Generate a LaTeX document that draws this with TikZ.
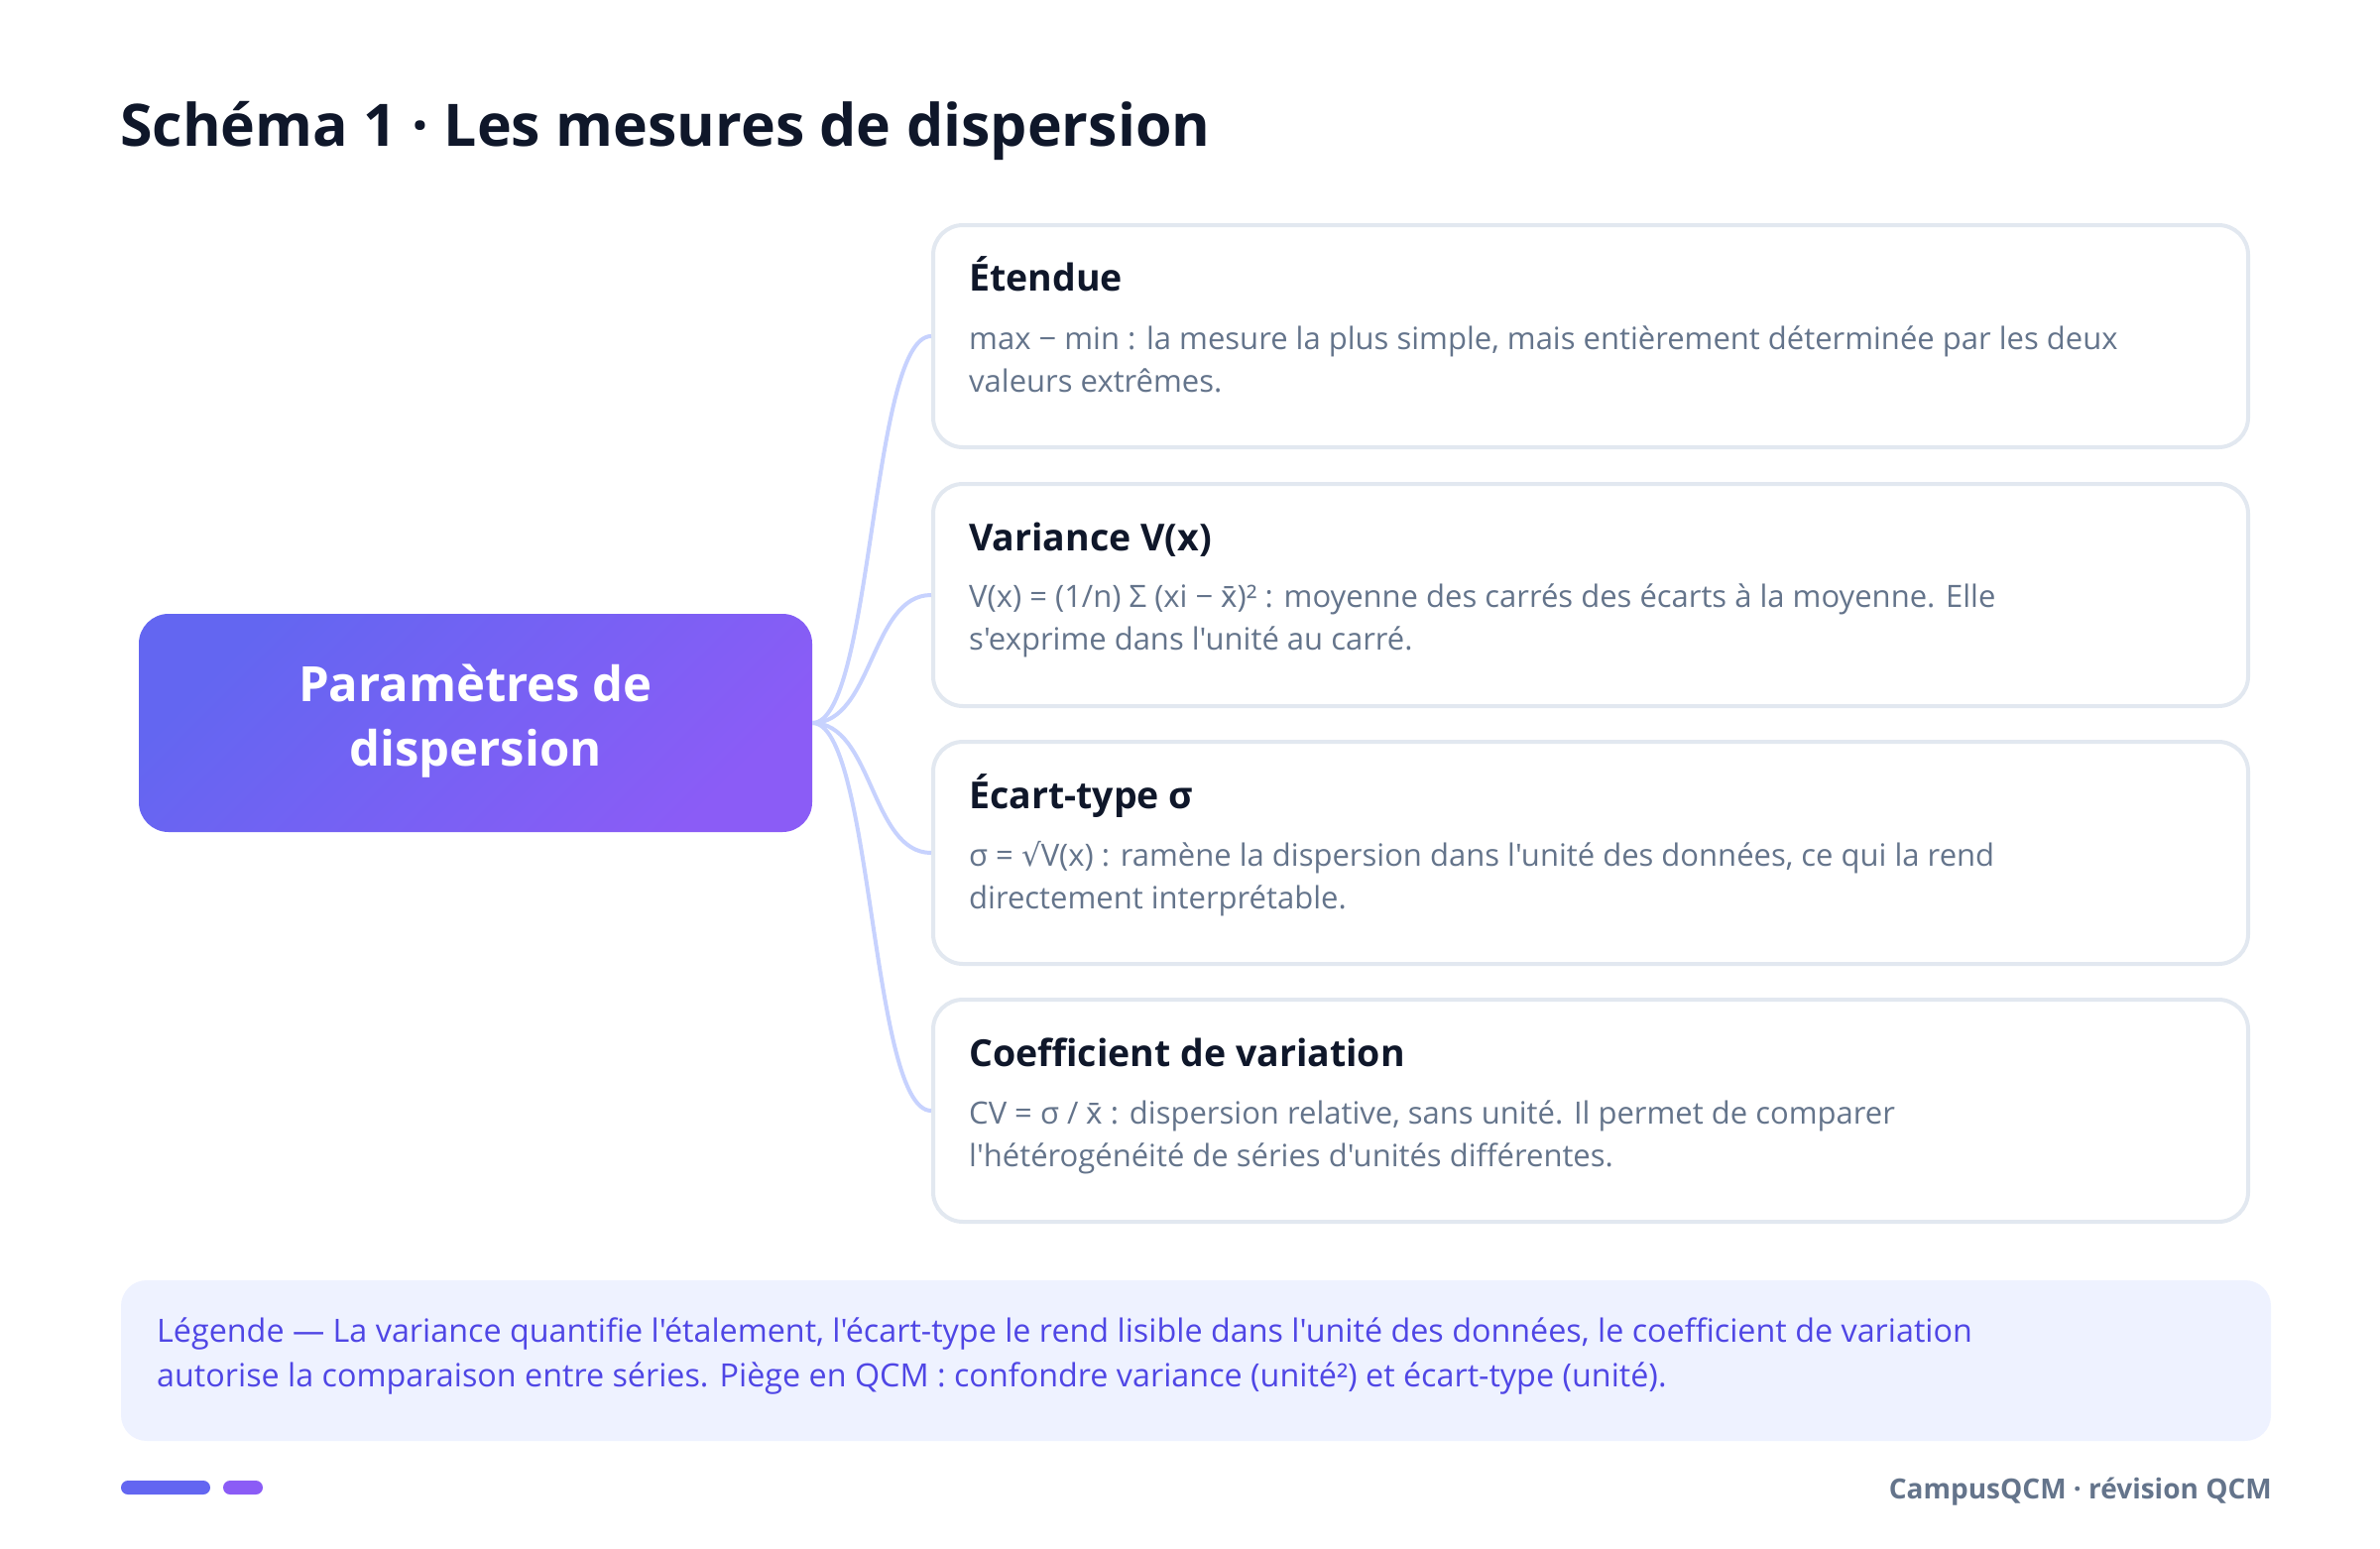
\documentclass[tikz,border=0pt]{standalone}
\usepackage{fontspec}
\setmainfont{Open Sans}[Ligatures=TeXOff]
\newfontfamily\djv{DejaVu Sans}
\newfontfamily\noto{Noto Sans}
\definecolor{ink}{HTML}{0F172A}
\definecolor{muted}{HTML}{64748B}
\definecolor{cardline}{HTML}{E2E8F0}
\definecolor{conncol}{HTML}{C7D2FE}
\definecolor{legbg}{HTML}{EEF2FF}
\definecolor{legtext}{HTML}{4F46E5}
\definecolor{indigoA}{HTML}{6366F1}
\definecolor{violetA}{HTML}{8B5CF6}
\tikzset{
  card/.style={draw=cardline, line width=4pt, fill=white, rounded corners=30pt,
    minimum width=1326pt, minimum height=224pt, inner sep=0pt},
  ctitle/.style={anchor=base west, inner sep=0pt, text=ink,
    font=\fontsize{37.5}{44}\selectfont\bfseries},
  cdesc/.style={anchor=base west, inner sep=0pt, text=muted,
    font=\fontsize{31}{36}\selectfont},
  conn/.style={draw=conncol, line width=4pt},
  legtxt/.style={anchor=base west, inner sep=0pt, text=legtext,
    font=\fontsize{32.3}{38}\selectfont},
}
\begin{document}
\begin{tikzpicture}[x=1pt,y=-1pt]
\useasboundingbox[fill=white] (0,0) rectangle (2400,1561);

% title
\node[anchor=base west, inner sep=0pt, text=ink, font=\fontsize{59}{66}\selectfont\bfseries]
  (title) at (121,147) {Schéma 1 · Les mesures de dispersion};

% root
\node[rounded corners=30pt, minimum width=679pt, minimum height=220pt, inner sep=0pt,
  left color=indigoA, right color=violetA, shading angle=45]
  (root) at (479.5,729) {};
\node[anchor=base, inner sep=0pt, text=white, font=\fontsize{49}{56}\selectfont\bfseries]
  (rootA) at (479.5,707) {Paramètres de};
\node[anchor=base, inner sep=0pt, text=white, font=\fontsize{49}{56}\selectfont\bfseries]
  (rootB) at (479.5,772) {dispersion};

% cards
\node[card] (c1) at (1604,339) {};
\node[card] (c2) at (1604,600) {};
\node[card] (c3) at (1604,860) {};
\node[card] (c4) at (1604,1120) {};

% connectors
\foreach \c in {c1,c2,c3,c4}{
  \draw[conn] (root.east) .. controls ([xshift=61pt]root.east) and ([xshift=-61pt]\c.west) .. (\c.west);
}

% card texts
\node[ctitle] (t1) at (977,293) {Étendue};
\node[cdesc] (d1a) at (977,352) {max − min : la mesure la plus simple, mais entièrement déterminée par les deux};
\node[cdesc] (d1b) at (977,395) {valeurs extrêmes.};

\node[ctitle] (t2) at (977,555) {Variance V(x)};
\node[cdesc] (d2a) at (977,612) {V(x) = (1/n) Σ (xi − {\noto x̄})² : moyenne des carrés des écarts à la moyenne. Elle};
\node[cdesc] (d2b) at (977,655) {s'exprime dans l'unité au carré.};

\node[ctitle] (t3) at (977,815) {Écart-type σ};
\node[cdesc] (d3a) at (977,873) {σ = {\djv √}V(x) : ramène la dispersion dans l'unité des données, ce qui la rend};
\node[cdesc] (d3b) at (977,916) {directement interprétable.};

\node[ctitle] (t4) at (977,1075) {Coefficient de variation};
\node[cdesc] (d4a) at (977,1133) {CV = σ / {\noto x̄} : dispersion relative, sans unité. Il permet de comparer};
\node[cdesc] (d4b) at (977,1176) {l'hétérogénéité de séries d'unités différentes.};

% legend
\node[fill=legbg, rounded corners=26pt, minimum width=2168pt, minimum height=162pt, inner sep=0pt]
  (leg) at (1206,1372) {};
\node[legtxt] (l1) at (158,1353) {Légende — La variance quantifie l'étalement, l'écart-type le rend lisible dans l'unité des données, le coefficient de variation};
\node[legtxt] (l2) at (158,1398) {autorise la comparaison entre séries. Piège en QCM : confondre variance (unité²) et écart-type (unité).};

% footer
\node[fill=indigoA, rounded corners=7pt, minimum width=90pt, minimum height=14pt, inner sep=0pt]
  (bar1) at (167,1500) {};
\node[fill=violetA, rounded corners=7pt, minimum width=40pt, minimum height=14pt, inner sep=0pt]
  (bar2) at (245,1500) {};
\node[anchor=base east, inner sep=0pt, text=muted, font=\fontsize{28}{34}\selectfont\bfseries]
  (foot) at (2291,1511) {CampusQCM · révision QCM};
\end{tikzpicture}
\end{document}
